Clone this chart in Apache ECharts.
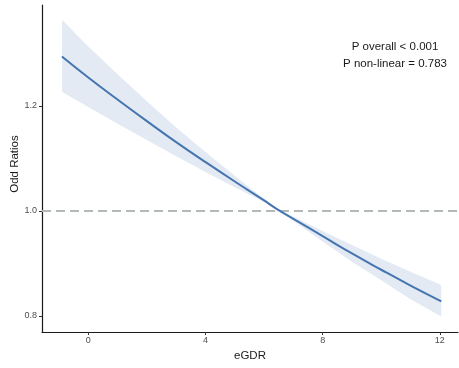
<!DOCTYPE html>
<html><head><meta charset="utf-8">
<script src="https://cdn.jsdelivr.net/npm/echarts@6/dist/echarts.min.js"></script>
<style>html,body{margin:0;padding:0;background:#fff}#c{width:459px;height:368px}</style>
</head><body><div id="c"></div>
<script>
const xValues = [-0.9, 0, 1, 2, 3, 4, 5, 6, 6.4, 7, 8, 9, 10, 11, 12.05];
const orValues = [1.294, 1.254, 1.212, 1.171, 1.131, 1.093, 1.056, 1.020, 1.005, 0.985, 0.952, 0.919, 0.888, 0.858, 0.828];
const lowerCI = [1.227, 1.198, 1.166, 1.135, 1.104, 1.074, 1.045, 1.017, 1.005, 0.981, 0.942, 0.903, 0.868, 0.832, 0.799];
const upperCI = [1.364, 1.313, 1.260, 1.209, 1.159, 1.112, 1.067, 1.023, 1.005, 0.989, 0.962, 0.935, 0.909, 0.884, 0.859];
const xTicks = [0, 4, 8, 12];
const yTicks = [0.8, 1.0, 1.2];
const refLine = 1.0;
const xTitle = 'eGDR';
const yTitle = 'Odd Ratios';
const annotations = ['P overall < 0.001', 'P non-linear = 0.783'];

const chart = echarts.init(document.getElementById('c'), null, {renderer: 'canvas'});
const font = 'Liberation Sans, Arial, sans-serif';
const bandData = xValues.map((x, i) => [x, lowerCI[i], upperCI[i]]);
chart.setOption({
  animation: false,
  grid: {left: 42, top: 5, right: 1, bottom: 36, containLabel: false, outerBoundsMode: 'none'},
  xAxis: {
    type: 'value', min: -1.58, max: 12.62,
    name: xTitle, nameLocation: 'middle', nameGap: 12,
    nameTextStyle: {fontFamily: font, fontSize: 11.5, color: '#1a1a1a'},
    axisLine: {show: true, onZero: false, lineStyle: {color: '#1a1a1a', width: 1.2}},
    axisTick: {show: true, length: 3, customValues: xTicks, lineStyle: {color: '#333'}},
    axisLabel: {customValues: xTicks, margin: 4, fontFamily: font, fontSize: 9, color: '#4d4d4d'},
    splitLine: {show: false}
  },
  yAxis: {
    type: 'value', min: 0.7695, max: 1.392,
    axisLine: {show: true, onZero: false, lineStyle: {color: '#1a1a1a', width: 1.2}},
    axisTick: {show: true, length: 3, customValues: yTicks, lineStyle: {color: '#333'}},
    axisLabel: {customValues: yTicks, margin: 5, fontFamily: font, fontSize: 9, color: '#4d4d4d',
      formatter: v => v.toFixed(1)},
    splitLine: {show: false}
  },
  series: [
    {type: 'custom', data: bandData, silent: true, z: 1,
     renderItem: (params, api) => {
       if (params.dataIndex !== 0) return null;
       const pts = [];
       bandData.forEach(d => pts.push(api.coord([d[0], d[2]])));
       for (let i = bandData.length - 1; i >= 0; i--) pts.push(api.coord([bandData[i][0], bandData[i][1]]));
       return {type: 'polygon', shape: {points: pts}, style: {fill: '#e3eaf4', stroke: null}};
     }},
    {type: 'line', data: xValues.map((x, i) => [x, orValues[i]]), symbol: 'none', smooth: true,
     lineStyle: {color: '#4575b0', width: 2}, z: 5,
     markLine: {silent: true, symbol: 'none', label: {show: false},
       lineStyle: {color: '#b3bab6', type: [9, 5], width: 2},
       data: [{yAxis: refLine}]}}
  ],
  graphic: [
    {type: 'text', z: 100, x: 15, y: 164, rotation: Math.PI / 2,
     style: {text: yTitle, x: 0, y: 0, align: 'center', verticalAlign: 'middle',
      font: '11.5px ' + font, fill: '#1a1a1a'}},
    {type: 'text', z: 100, style: {text: annotations[0], x: 395, y: 47, align: 'center', verticalAlign: 'middle',
      font: '11.5px ' + font, fill: '#1a1a1a'}},
    {type: 'text', z: 100, style: {text: annotations[1], x: 395, y: 64, align: 'center', verticalAlign: 'middle',
      font: '11.5px ' + font, fill: '#1a1a1a'}}
  ]
});
</script></body></html>
